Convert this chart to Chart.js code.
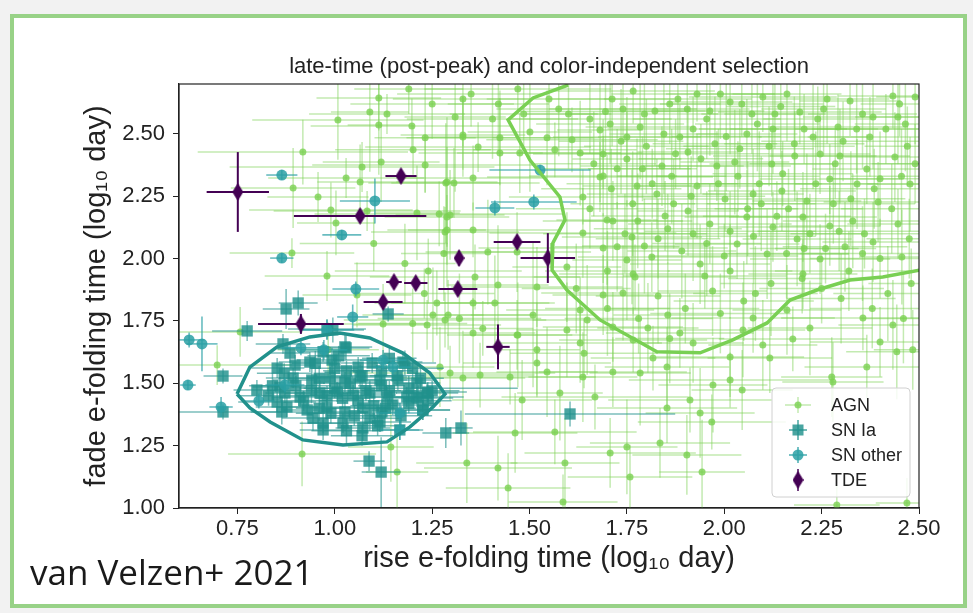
<!DOCTYPE html>
<html>
<head>
<meta charset="utf-8">
<script src="https://cdn.jsdelivr.net/npm/chart.js@4/dist/chart.umd.min.js"></script>
<style>
  html, body { margin: 0; padding: 0; background: #f2f2f2; }
  #frame {
    position: absolute; left: 10px; top: 14px; width: 957px; height: 594px;
    box-sizing: border-box; border: 4px solid #98d287; background: #fff;
  }
  #wrap { position: absolute; left: 0; top: 0; width: 973px; height: 613px; }
  #credit {
    position: absolute; left: 30px; top: 548px; font-family: "Open Sans", Lato, sans-serif;
    font-size: 35px; color: #1a1a1a;
  }
</style>
</head>
<body>
<div id="frame"></div>
<div id="wrap"><canvas id="chart" width="973" height="613"></canvas></div>
<div id="credit">van Velzen+ 2021</div>
<script>
// axis ticks
const xTicks = [0.75, 1.00, 1.25, 1.50, 1.75, 2.00, 2.25, 2.50];
const yTicks = [1.00, 1.25, 1.50, 1.75, 2.00, 2.25, 2.50];

// rows: [rise, fade, riseErr, fadeErr]  (log10 day)
const agn = [
  [1.008,2.556,0.22,0.16],[1.090,2.588,0.10,0.24],[1.113,2.644,0.16,0.13],[1.134,2.580,0.20,0.08],
  [1.113,2.536,0.08,0.20],[1.198,2.532,0.26,0.11],[1.232,2.484,0.13,0.22],[1.201,2.436,0.20,0.10],
  [1.119,2.387,0.15,0.16],[1.070,2.367,0.34,0.10],[1.029,2.323,0.20,0.08],[1.065,2.307,0.11,0.15],
  [0.918,2.427,0.27,0.13],[0.893,2.283,0.16,0.16],[0.957,2.247,0.13,0.10],[0.990,2.195,0.21,0.11],
  [1.003,2.143,0.10,0.13],[1.083,2.191,0.24,0.08],[1.211,2.183,0.11,0.19],[1.268,2.179,0.32,0.13],
  [1.288,2.167,0.16,0.28],[1.283,2.107,0.19,0.10],[1.285,2.303,0.14,0.24],[1.306,2.303,0.22,0.14],
  [1.309,2.568,0.13,0.30],[1.329,2.640,0.18,0.19],[1.329,2.488,0.10,0.16],[1.232,2.375,0.29,0.11],
  [0.890,2.022,0.16,0.06],
  [1.329,2.496,0.16,0.14],[1.424,2.484,0.24,0.19],[1.288,2.307,0.13,0.26],[1.355,2.323,0.19,0.13],
  [1.424,2.423,0.11,0.22],[1.368,2.447,0.29,0.10],[1.296,2.175,0.14,0.18],[1.355,2.115,0.22,0.11],
  [1.393,2.026,0.16,0.21],[1.288,2.115,0.10,0.14],[1.468,2.026,0.19,0.16],[1.360,1.926,0.27,0.13],
  [1.419,1.894,0.13,0.24],[1.355,1.822,0.21,0.10],[1.411,1.822,0.14,0.19],[1.468,1.694,0.18,0.14],
  [1.283,1.754,0.26,0.11],[1.509,1.774,0.16,0.29],[1.519,1.886,0.22,0.16],[1.519,1.634,0.11,0.19],
  [1.630,1.794,0.19,0.13],[1.596,1.966,0.14,0.22],[1.637,2.103,0.24,0.18],[1.699,2.155,0.13,0.26],
  [1.637,2.247,0.19,0.11],[1.681,2.327,0.29,0.14],[1.630,2.423,0.16,0.21],[1.609,2.476,0.22,0.13],
  [1.681,2.516,0.11,0.29],[1.750,2.488,0.19,0.16],[1.689,2.042,0.32,0.14],[1.750,1.994,0.14,0.24],
  [1.740,1.862,0.21,0.19],[1.689,1.854,0.13,0.16],[1.763,2.087,0.18,0.27],[1.771,1.926,0.26,0.13],
  [1.545,2.484,0.14,0.19],[1.565,2.436,0.21,0.11],[1.501,2.508,0.16,0.24],[1.475,2.423,0.26,0.16],
  [1.350,2.660,0.19,0.13],[1.420,2.620,0.13,0.19],[1.470,2.680,0.24,0.10],[1.550,2.640,0.16,0.16],
  [1.600,2.580,0.11,0.22],[1.250,2.620,0.21,0.14],[1.190,2.680,0.14,0.10],
  [1.100,2.060,0.19,0.11],[1.180,1.980,0.13,0.16],[1.240,1.950,0.24,0.13],[1.280,2.020,0.11,0.19],
  [1.230,1.860,0.18,0.10],[1.200,1.740,0.14,0.14],[1.320,1.760,0.21,0.18],[1.380,1.720,0.13,0.11],
  [0.980,1.930,0.16,0.10],[1.057,1.854,0.14,0.13],[1.124,1.738,0.11,0.16],[1.237,1.734,0.19,0.10],
  [1.252,1.774,0.13,0.19],[1.262,1.822,0.16,0.13],[1.291,1.774,0.22,0.14],[1.270,1.565,0.14,0.16],
  [1.296,1.541,0.27,0.11],[1.329,1.521,0.16,0.19],[0.698,1.573,0.19,0.08],[0.757,1.706,0.16,0.10],
  [0.983,1.634,0.13,0.11],[0.916,1.217,0.19,0.13],[1.144,1.245,0.11,0.14],[1.160,1.144,0.08,0.19],
  [1.355,1.702,0.16,0.14],[1.470,1.694,0.14,0.21],[1.519,1.581,0.19,0.13],[1.545,1.545,0.13,0.18],
  [1.450,1.525,0.22,0.11],[1.373,1.533,0.14,0.13],[1.481,1.433,0.18,0.16],[1.578,1.461,0.11,0.19],
  [1.668,1.445,0.24,0.13],[1.637,1.525,0.14,0.18],[1.714,1.545,0.19,0.14],[1.784,1.541,0.13,0.21],
  [1.853,1.565,0.16,0.16],[1.912,1.433,0.21,0.13],[1.971,1.493,0.14,0.19],[2.015,1.513,0.26,0.11],
  [2.046,1.473,0.13,0.16],[1.853,1.401,0.18,0.14],[1.938,1.381,0.14,0.18],[1.968,1.345,0.19,0.11],
  [1.463,1.301,0.16,0.16],[1.565,1.305,0.21,0.13],[1.750,1.245,0.13,0.19],[1.835,1.261,0.18,0.14],
  [1.904,1.213,0.14,0.16],[1.943,1.144,0.11,0.21],[1.758,1.124,0.16,0.13],[1.707,1.221,0.22,0.14],
  [1.591,1.180,0.14,0.18],[1.419,1.160,0.19,0.13],[1.339,1.180,0.13,0.16],[1.445,1.080,0.16,0.14],
  [1.586,1.024,0.14,0.11],[2.279,1.505,0.13,0.16],[2.220,1.722,0.16,0.19],[2.176,1.678,0.19,0.13],
  [2.099,1.654,0.14,0.18],[2.400,1.666,0.18,0.14],[2.443,1.626,0.13,0.19],[2.484,1.634,0.10,0.16],
  [2.356,1.762,0.21,0.13],[2.433,1.734,0.14,0.18],[2.289,1.012,0.11,0.08],[2.469,1.020,0.08,0.10],
  [2.117,1.601,0.16,0.14],[2.015,1.605,0.19,0.16],[1.855,1.774,0.14,0.21],[1.886,1.702,0.19,0.14],
  [1.804,1.722,0.13,0.18],[1.817,1.601,0.16,0.13],[1.630,1.662,0.21,0.16],[1.596,1.714,0.13,0.19],
  [1.714,1.726,0.18,0.14],[1.648,1.754,0.14,0.22],[1.766,1.674,0.19,0.13],[1.920,1.662,0.13,0.16],
  [2.048,1.714,0.16,0.19],[2.074,1.762,0.21,0.14],[2.161,1.794,0.14,0.18],[2.366,1.565,0.16,0.13],
  [2.276,1.525,0.13,0.16],
  [1.712,2.640,0.16,0.19],[1.766,2.672,0.21,0.13],[1.822,2.592,0.13,0.22],[1.881,2.640,0.19,0.14],
  [1.963,2.592,0.14,0.18],[1.930,2.660,0.22,0.11],[2.015,2.628,0.16,0.21],[2.071,2.580,0.13,0.16],
  [2.099,2.648,0.19,0.14],[2.161,2.660,0.14,0.19],[2.194,2.588,0.21,0.13],[2.264,2.640,0.16,0.18],
  [2.323,2.632,0.13,0.14],[2.382,2.568,0.18,0.21],[2.433,2.652,0.14,0.13],[2.490,2.648,0.10,0.19],
  [1.707,2.540,0.19,0.16],[1.784,2.528,0.14,0.21],[1.886,2.488,0.21,0.13],[1.976,2.460,0.16,0.19],
  [2.058,2.500,0.13,0.14],[2.125,2.520,0.19,0.18],[2.228,2.488,0.14,0.21],[2.292,2.528,0.18,0.13],
  [2.374,2.488,0.16,0.16],[2.446,2.568,0.11,0.19],[1.689,2.419,0.18,0.14],[1.750,2.399,0.14,0.19],
  [1.840,2.371,0.21,0.16],[1.907,2.427,0.13,0.18],[1.981,2.371,0.19,0.14],[2.027,2.387,0.14,0.21],
  [2.122,2.379,0.16,0.13],[2.181,2.411,0.21,0.18],[2.246,2.419,0.13,0.16],[2.297,2.411,0.18,0.19],
  [2.366,2.359,0.14,0.14],[2.438,2.407,0.13,0.18],[1.689,2.331,0.19,0.16],[1.776,2.291,0.14,0.19],
  [1.827,2.259,0.18,0.14],[1.930,2.291,0.16,0.21],[2.002,2.239,0.21,0.13],[2.074,2.259,0.13,0.18],
  [2.148,2.271,0.19,0.16],[2.212,2.231,0.14,0.19],[2.271,2.319,0.18,0.14],[2.341,2.299,0.16,0.18],
  [2.395,2.227,0.14,0.16],[2.477,2.299,0.11,0.19],[1.714,2.151,0.18,0.16],[1.778,2.151,0.14,0.19],
  [1.848,2.171,0.19,0.14],[1.907,2.191,0.13,0.18],[1.963,2.139,0.21,0.16],[2.058,2.167,0.16,0.19],
  [2.125,2.127,0.14,0.14],[2.202,2.167,0.19,0.18],[2.271,2.131,0.13,0.16],[2.330,2.151,0.18,0.19],
  [2.446,2.139,0.13,0.14],[1.725,2.047,0.16,0.18],[1.814,2.006,0.19,0.14],[1.891,2.030,0.14,0.19],
  [1.938,1.978,0.18,0.16],[2.033,2.058,0.16,0.14],[2.110,2.018,0.21,0.18],[2.187,2.079,0.14,0.19],
  [2.246,1.998,0.18,0.14],[2.310,2.047,0.16,0.18],[2.382,2.067,0.13,0.16],[2.456,2.006,0.11,0.19],
  [1.766,1.938,0.19,0.16],[2.015,1.950,0.16,0.19],[2.202,1.938,0.14,0.14],
  [1.830,1.850,0.16,0.19],[1.900,1.800,0.19,0.14],[1.970,1.870,0.14,0.18],[2.050,1.830,0.18,0.16],
  [2.120,1.900,0.13,0.21],[2.250,1.880,0.16,0.14],[2.320,1.950,0.19,0.16],[2.420,1.860,0.14,0.19],
  [2.480,1.900,0.11,0.14],[1.950,1.930,0.21,0.13],[1.700,1.950,0.16,0.16],[1.620,1.880,0.14,0.18],
  [1.740,2.600,0.19,0.14],[1.800,2.450,0.16,0.19],[1.860,2.620,0.13,0.16],[1.920,2.520,0.22,0.13],
  [1.990,2.660,0.14,0.18],[2.040,2.440,0.19,0.16],[2.090,2.300,0.16,0.21],[2.130,2.580,0.13,0.14],
  [2.180,2.460,0.18,0.19],[2.240,2.560,0.14,0.13],[2.280,2.220,0.21,0.16],[2.340,2.520,0.16,0.18],
  [2.400,2.320,0.13,0.19],[2.470,2.450,0.11,0.16],[2.450,2.620,0.10,0.13],[1.710,2.280,0.18,0.16],
  [1.790,2.360,0.14,0.13],[1.870,2.220,0.19,0.18],[1.940,2.400,0.16,0.14],[2.060,2.200,0.13,0.19],
  [2.150,2.340,0.18,0.13],[2.220,2.100,0.14,0.16],[2.360,2.100,0.19,0.14],[2.430,2.200,0.13,0.18],
  [1.830,2.080,0.16,0.16],[1.920,2.100,0.14,0.19],[2.000,2.010,0.19,0.13],[2.160,2.020,0.16,0.18],
  [2.260,2.040,0.13,0.14],[2.400,2.000,0.18,0.16],
  [1.695,2.590,0.22,0.16],[1.735,2.470,0.16,0.21],[1.795,2.580,0.19,0.13],[1.845,2.500,0.14,0.24],
  [1.875,2.420,0.24,0.14],[1.905,2.600,0.16,0.19],[1.955,2.560,0.19,0.16],[2.005,2.490,0.14,0.22],
  [2.045,2.620,0.21,0.13],[2.085,2.540,0.16,0.19],[2.115,2.450,0.22,0.16],[2.145,2.610,0.14,0.21],
  [2.205,2.520,0.19,0.14],[2.255,2.600,0.16,0.19],[2.305,2.470,0.21,0.16],[2.355,2.580,0.14,0.22],
  [2.415,2.520,0.19,0.14],[2.465,2.540,0.13,0.19],[2.490,2.380,0.11,0.16],[1.725,2.360,0.19,0.16],
  [1.765,2.220,0.16,0.21],[1.815,2.300,0.22,0.14],[1.865,2.330,0.14,0.19],[1.915,2.250,0.19,0.16],
  [1.985,2.300,0.16,0.22],[2.035,2.330,0.21,0.14],[2.095,2.220,0.14,0.19],[2.165,2.200,0.19,0.16],
  [2.235,2.300,0.16,0.21],[2.285,2.380,0.22,0.14],[2.325,2.240,0.14,0.19],[2.385,2.280,0.19,0.16],
  [2.455,2.330,0.13,0.19],[1.745,2.100,0.21,0.16],[1.795,2.050,0.16,0.19],[1.855,2.120,0.19,0.14],
  [1.955,2.060,0.14,0.21],[2.015,2.110,0.22,0.16],[2.075,2.090,0.16,0.19],[2.135,2.170,0.19,0.14],
  [2.205,2.040,0.14,0.19],[2.295,2.110,0.21,0.16],[2.355,2.020,0.16,0.19],[2.475,2.080,0.11,0.16],
  [1.655,2.200,0.19,0.16],[1.665,2.380,0.16,0.21],[1.655,2.560,0.21,0.14],[1.575,2.600,0.16,0.19],
  [1.485,2.580,0.19,0.14],[1.405,2.560,0.22,0.16],
  [1.700,1.800,0.16,0.19],[1.780,1.760,0.19,0.14],[1.860,1.680,0.14,0.18],[1.990,1.780,0.18,0.16],
  [2.080,1.860,0.16,0.19],[2.200,1.920,0.19,0.14],[2.300,1.840,0.14,0.18],[2.380,1.800,0.16,0.16],
  [2.460,1.760,0.11,0.18],[1.640,1.620,0.19,0.14]
];

const snIa = [
  [0.775,1.710,0.09,0.04],[0.713,1.529,0.05,0.03],[0.713,1.385,0.15,0.03],[0.875,1.798,0.06,0.08],
  [0.906,1.822,0.05,0.05],[1.137,1.778,0.04,0.03],[0.980,1.718,0.10,0.04],[0.995,1.714,0.08,0.05],
  [1.029,1.642,0.06,0.05],[0.867,1.658,0.07,0.04],[1.088,1.188,0.04,0.04],[1.119,1.144,0.05,0.14],
  [1.285,1.301,0.06,0.06],[1.324,1.321,0.03,0.07],[1.604,1.377,0.27,0.05],[0.800,1.473,0.06,0.04],
  [0.852,1.425,0.10,0.04],[0.864,1.385,0.08,0.05],[1.239,1.465,0.10,0.04],[1.226,1.393,0.07,0.04],
  [1.211,1.445,0.12,0.04],[1.180,1.581,0.08,0.05],[0.852,1.561,0.07,0.04],[0.970,1.626,0.06,0.04],
  [0.885,1.621,0.05,0.04],[1.026,1.646,0.07,0.05],[0.936,1.585,0.08,0.04],[0.898,1.573,0.05,0.04],
  [0.993,1.593,0.09,0.05],[1.060,1.565,0.06,0.04],[1.096,1.581,0.08,0.04],[1.175,1.585,0.05,0.04],
  [0.893,1.521,0.07,0.04],[0.941,1.513,0.10,0.05],[0.988,1.525,0.06,0.04],[1.026,1.505,0.08,0.04],
  [1.065,1.525,0.12,0.05],[1.116,1.513,0.07,0.04],[1.162,1.513,0.09,0.04],[1.211,1.501,0.06,0.05],
  [1.237,1.461,0.08,0.04],[0.911,1.445,0.07,0.04],[0.962,1.461,0.09,0.05],[1.006,1.465,0.06,0.04],
  [1.047,1.453,0.11,0.04],[1.090,1.461,0.07,0.05],[1.134,1.445,0.08,0.04],[1.185,1.445,0.06,0.04],
  [1.214,1.441,0.09,0.05],[0.877,1.405,0.08,0.04],[0.929,1.393,0.06,0.04],[0.980,1.405,0.10,0.05],
  [1.026,1.385,0.07,0.04],[1.072,1.401,0.08,0.04],[1.121,1.385,0.06,0.05],[1.149,1.413,0.09,0.04],
  [1.226,1.393,0.07,0.04],[0.944,1.361,0.08,0.05],[0.970,1.313,0.06,0.04],[1.021,1.341,0.09,0.04],
  [1.072,1.321,0.07,0.05],[1.116,1.345,0.08,0.04],[1.167,1.313,0.06,0.04],[0.859,1.485,0.07,0.04],
  [0.872,1.461,0.05,0.04],[1.000,1.480,0.08,0.04],[1.040,1.500,0.07,0.05],[1.080,1.470,0.09,0.04],
  [1.120,1.490,0.06,0.04],[0.960,1.520,0.08,0.05],[1.020,1.440,0.07,0.04],[1.060,1.430,0.10,0.04],
  [1.100,1.410,0.06,0.05],[0.980,1.450,0.08,0.04],[1.140,1.470,0.07,0.04],[1.190,1.480,0.28,0.05],
  [1.030,1.550,0.06,0.04],[1.070,1.530,0.08,0.04],[0.940,1.470,0.07,0.05],[0.900,1.490,0.09,0.04],
  [1.000,1.560,0.06,0.04],[1.120,1.550,0.08,0.05],[1.160,1.530,0.07,0.04],[0.920,1.430,0.06,0.04],
  [1.090,1.360,0.08,0.05],[1.050,1.370,0.07,0.04],[0.990,1.380,0.09,0.04],[0.960,1.400,0.06,0.05],
  [1.130,1.400,0.08,0.04],[1.190,1.420,0.07,0.04],[1.220,1.520,0.06,0.05],[1.200,1.560,0.08,0.04],
  [1.140,1.600,0.07,0.04],[0.950,1.580,0.06,0.05],[1.010,1.610,0.08,0.04],[0.870,1.540,0.07,0.04],
  [0.840,1.490,0.06,0.05],[0.830,1.450,0.08,0.04],[1.250,1.470,0.07,0.04],[1.240,1.430,0.06,0.05],
  [1.170,1.370,0.08,0.04],[1.110,1.330,0.07,0.04],[1.030,1.310,0.09,0.05],[0.970,1.340,0.06,0.04],
  [1.070,1.290,0.08,0.04]
];

const snOther = [
  [0.864,2.335,0.04,0.02],[1.103,2.231,0.09,0.09],[1.018,2.095,0.05,0.02],[0.864,2.002,0.03,0.02],
  [1.527,2.355,0.13,0.02],[1.511,2.227,0.11,0.03],[1.411,2.203,0.05,0.03],[1.054,1.878,0.06,0.03],
  [1.046,1.766,0.04,0.05],[0.626,1.674,0.04,0.03],[0.659,1.658,0.04,0.11],[0.623,1.493,0.02,0.02],
  [0.708,1.405,0.03,0.04],[0.805,1.429,0.04,0.03],[0.913,1.642,0.05,0.03],[0.972,1.634,0.06,0.04],
  [0.872,1.493,0.05,0.03],[1.124,1.593,0.06,0.04],[1.149,1.565,0.05,0.03],[1.167,1.381,0.06,0.04],
  [1.167,1.313,0.05,0.04],[0.980,1.714,0.07,0.04]
];

const tde = [
  [0.751,2.267,0.08,0.16],[1.170,2.331,0.04,0.02],[1.065,2.171,0.17,0.02],[1.319,2.002,0.01,0.03],
  [1.468,2.067,0.06,0.02],[1.547,2.002,0.07,0.10],[1.316,1.878,0.05,0.01],[1.419,1.646,0.03,0.09],
  [1.152,1.906,0.02,0.02],[1.208,1.902,0.03,0.01],[1.124,1.826,0.05,0.02],[0.913,1.738,0.11,0.04]
];

// selection contours
const agnContour = [
  [1.599,2.696],[1.509,2.644],[1.445,2.556],[1.501,2.395],[1.578,2.247],[1.591,2.155],[1.560,2.063],
  [1.558,1.954],[1.596,1.874],[1.681,1.754],[1.827,1.626],[1.938,1.622],[2.022,1.674],[2.110,1.742],
  [2.169,1.834],[2.238,1.874],[2.323,1.914],[2.407,1.926],[2.502,1.954]
];
const snIaContour = [
  [0.749,1.457],[0.782,1.565],[0.852,1.646],[0.936,1.686],[1.013,1.702],[1.090,1.682],[1.175,1.621],
  [1.244,1.541],[1.283,1.457],[1.252,1.405],[1.193,1.325],[1.134,1.265],[1.021,1.253],[0.918,1.273],
  [0.834,1.345],[0.782,1.401],[0.749,1.457]
];

const agnColor = 'rgba(122,209,81,0.8)';
const agnErrColor = 'rgba(122,209,81,0.45)';
const iaColor = 'rgba(33,145,140,0.82)';
const otherColor = 'rgba(42,160,165,0.85)';
const tdeColor = '#440154';
const font = '"Liberation Sans", Arial, sans-serif';

// thin diamond marker like matplotlib 'd'
function diamond(w, h, color) {
    const c = document.createElement('canvas');
    c.width = w; c.height = h;
    const g = c.getContext('2d');
    g.fillStyle = color;
    g.beginPath();
    g.moveTo(w / 2, 0); g.lineTo(w, h / 2); g.lineTo(w / 2, h); g.lineTo(0, h / 2);
    g.closePath(); g.fill();
    return c;
}
const tdeMarker = diamond(11, 18, tdeColor);

const pts = rows => rows.map(r => ({ x: r[0], y: r[1] }));

// error bars drawn right before each dataset so stacking follows dataset order
const errorBars = {
    id: 'errorBars',
    beforeDatasetDraw(chart, args) {
        const ds = chart.data.datasets[args.index];
        if (!ds.errRows) return;
        const { x, y } = chart.scales;
        const ctx = chart.ctx;
        const a = chart.chartArea;
        ctx.save();
        ctx.beginPath();
        ctx.rect(a.left, a.top, a.right - a.left, a.bottom - a.top);
        ctx.clip();
        ctx.strokeStyle = ds.errColor;
        ctx.lineWidth = ds.errWidth;
        ds.errRows.forEach(r => {
            const px = x.getPixelForValue(r[0]);
            const py = y.getPixelForValue(r[1]);
            ctx.beginPath();
            ctx.moveTo(x.getPixelForValue(r[0] - r[2]), py);
            ctx.lineTo(x.getPixelForValue(r[0] + r[2]), py);
            ctx.stroke();
            ctx.beginPath();
            ctx.moveTo(px, y.getPixelForValue(r[1] - r[3]));
            ctx.lineTo(px, y.getPixelForValue(r[1] + r[3]));
            ctx.stroke();
        });
        ctx.restore();
    }
};

// axes box, title and legend
const decor = {
    id: 'decor',
    afterDraw(chart) {
        const ctx = chart.ctx;
        const a = chart.chartArea;
        ctx.save();
        ctx.strokeStyle = '#222';
        ctx.lineWidth = 1.2;
        ctx.strokeRect(a.left, a.top, a.right - a.left, a.bottom - a.top);

        ctx.fillStyle = '#222';
        ctx.font = '22px ' + font;
        ctx.textAlign = 'center';
        ctx.textBaseline = 'middle';
        ctx.fillText('late-time (post-peak) and color-independent selection', (a.left + a.right) / 2, 67);

        // legend
        const lx = 772, ly = 388, lw = 138, lh = 109;
        ctx.fillStyle = 'rgba(255,255,255,0.85)';
        ctx.strokeStyle = '#d0d0d0';
        ctx.lineWidth = 1;
        ctx.beginPath();
        ctx.roundRect(lx, ly, lw, lh, 4);
        ctx.fill(); ctx.stroke();

        const mx = 798;
        const rows = [
            { label: 'AGN', y: 405, color: agnColor, err: agnErrColor, ex: 13, ey: 8 },
            { label: 'SN Ia', y: 430, color: iaColor, err: iaColor, ex: 9, ey: 10 },
            { label: 'SN other', y: 455, color: otherColor, err: otherColor, ex: 9, ey: 8 },
            { label: 'TDE', y: 480, color: tdeColor, err: tdeColor, ex: 0, ey: 11 }
        ];
        rows.forEach((r, i) => {
            ctx.strokeStyle = r.err;
            ctx.lineWidth = 1.5;
            ctx.beginPath();
            ctx.moveTo(mx - r.ex, r.y); ctx.lineTo(mx + r.ex, r.y);
            ctx.moveTo(mx, r.y - r.ey); ctx.lineTo(mx, r.y + r.ey);
            ctx.stroke();
            ctx.fillStyle = r.color;
            if (i === 0) {
                ctx.beginPath(); ctx.arc(mx, r.y, 3.5, 0, Math.PI * 2); ctx.fill();
            } else if (i === 1) {
                ctx.fillRect(mx - 5.5, r.y - 5.5, 11, 11);
            } else if (i === 2) {
                ctx.beginPath(); ctx.arc(mx, r.y, 5.5, 0, Math.PI * 2); ctx.fill();
            } else {
                ctx.drawImage(tdeMarker, mx - 5.5, r.y - 9);
            }
            ctx.fillStyle = '#222';
            ctx.font = '18px ' + font;
            ctx.textAlign = 'left';
            ctx.fillText(r.label, 831, r.y + 1);
        });
        ctx.restore();
    }
};

const tickFont = { family: font, size: 22 };
const titleFont = { family: font, size: 29 };

new Chart(document.getElementById('chart'), {
    type: 'scatter',
    data: {
        datasets: [
            {
                label: 'AGN contour', data: pts(agnContour), showLine: true,
                borderColor: '#79d053', borderWidth: 3.5, pointRadius: 0, order: 1
            },
            {
                label: 'SN Ia contour', data: pts(snIaContour), showLine: true,
                borderColor: '#21918c', borderWidth: 3.5, pointRadius: 0, order: 0
            },
            {
                label: 'TDE', data: pts(tde), pointStyle: tdeMarker, pointRadius: 9,
                errRows: tde, errColor: tdeColor, errWidth: 2, order: 2
            },
            {
                label: 'SN other', data: pts(snOther), pointStyle: 'circle', pointRadius: 5.5,
                backgroundColor: otherColor, borderWidth: 0,
                errRows: snOther, errColor: 'rgba(42,160,165,0.7)', errWidth: 1.6, order: 3
            },
            {
                label: 'SN Ia', data: pts(snIa), pointStyle: 'rect', pointRadius: 8,
                backgroundColor: iaColor, borderWidth: 0,
                errRows: snIa, errColor: 'rgba(33,145,140,0.6)', errWidth: 1.5, order: 4
            },
            {
                label: 'AGN', data: pts(agn), pointStyle: 'circle', pointRadius: 3.5,
                backgroundColor: agnColor, borderWidth: 0,
                errRows: agn, errColor: agnErrColor, errWidth: 1.5, order: 5
            }
        ]
    },
    options: {
        responsive: false,
        animation: false,
        layout: { padding: { left: 80, right: 54, top: 84, bottom: 37 } },
        plugins: { legend: { display: false }, tooltip: { enabled: false } },
        scales: {
            x: {
                type: 'linear', min: 0.6, max: 2.5,
                afterBuildTicks: s => { s.ticks = xTicks.map(v => ({ value: v })); },
                afterFit: s => { s.height = 68; },
                ticks: { font: tickFont, color: '#222', padding: 2, maxRotation: 0,
                    callback: v => v.toFixed(2) },
                grid: { drawOnChartArea: false, tickLength: 6, color: '#222' },
                border: { color: '#222', width: 1.2 },
                title: { display: true, text: 'rise e-folding time (log\u2081\u2080 day)', font: titleFont,
                    color: '#222', padding: { top: 0, bottom: 0 } }
            },
            y: {
                type: 'linear', min: 1.0, max: 2.7,
                afterBuildTicks: s => { s.ticks = yTicks.map(v => ({ value: v })); },
                afterFit: s => { s.width = 99; },
                ticks: { font: tickFont, color: '#222', padding: 8,
                    callback: v => v.toFixed(2) },
                grid: { drawOnChartArea: false, tickLength: 6, color: '#222' },
                border: { color: '#222', width: 1.2 },
                title: { display: true, text: 'fade e-folding time (log\u2081\u2080 day)', font: titleFont,
                    color: '#222', padding: { top: 0, bottom: 0 } }
            }
        }
    },
    plugins: [errorBars, decor]
});
</script>
</body>
</html>
